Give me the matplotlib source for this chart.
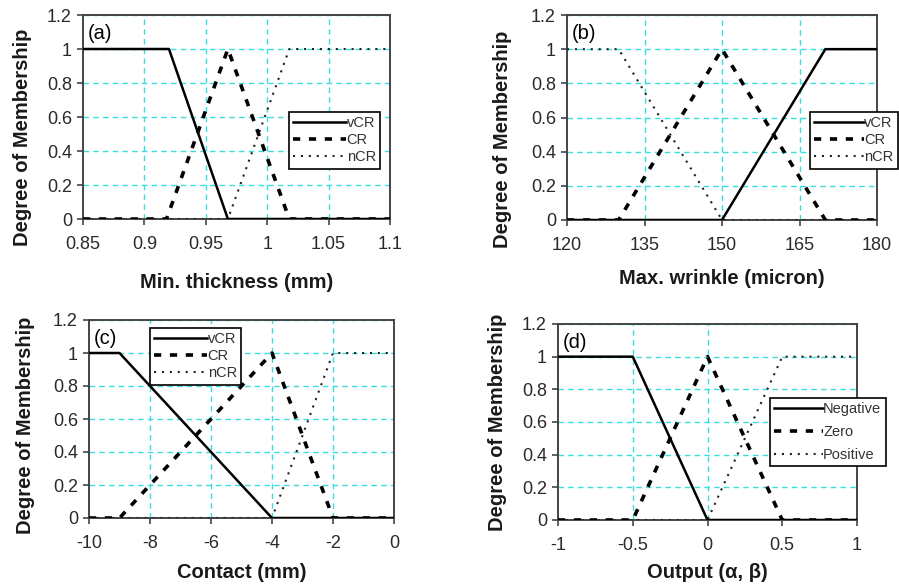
import matplotlib
matplotlib.use("Agg")
import matplotlib.pyplot as plt

plt.rcParams['font.family'] = ['Liberation Sans', 'DejaVu Sans']

# ---- data ----
a_vcr_x = [0.85, 0.92, 0.968, 1.1]
a_vcr_y = [1, 1, 0, 0]
a_cr_x = [0.85, 0.918, 0.968, 1.018, 1.1]
a_cr_y = [0, 0, 1, 0, 0]
a_ncr_x = [0.85, 0.968, 1.018, 1.1]
a_ncr_y = [0, 0, 1, 1]

b_vcr_x = [120, 150, 170, 180]
b_vcr_y = [0, 0, 1, 1]
b_cr_x = [120, 130, 150, 170, 180]
b_cr_y = [0, 0, 1, 0, 0]
b_ncr_x = [120, 130, 150, 180]
b_ncr_y = [1, 1, 0, 0]

c_vcr_x = [-10, -9, -4, 0]
c_vcr_y = [1, 1, 0, 0]
c_cr_x = [-10, -9, -4, -2, 0]
c_cr_y = [0, 0, 1, 0, 0]
c_ncr_x = [-10, -4, -2, 0]
c_ncr_y = [0, 0, 1, 1]

d_neg_x = [-1, -0.5, 0, 1]
d_neg_y = [1, 1, 0, 0]
d_zero_x = [-1, -0.5, 0, 0.5, 1]
d_zero_y = [0, 0, 1, 0, 0]
d_pos_x = [-1, 0, 0.5, 1]
d_pos_y = [0, 0, 1, 1]

a_ticks = [0.85, 0.9, 0.95, 1.0, 1.05, 1.1]
a_ticklabels = ['0.85', '0.9', '0.95', '1', '1.05', '1.1']
b_ticks = [120, 135, 150, 165, 180]
b_ticklabels = ['120', '135', '150', '165', '180']
c_ticks = [-10, -8, -6, -4, -2, 0]
c_ticklabels = ['-10', '-8', '-6', '-4', '-2', '0']
d_ticks = [-1, -0.5, 0, 0.5, 1]
d_ticklabels = ['-1', '-0.5', '0', '0.5', '1']
y_ticks = [0, 0.2, 0.4, 0.6, 0.8, 1.0, 1.2]
y_ticklabels = ['0', '0.2', '0.4', '0.6', '0.8', '1', '1.2']

labels_in = ['vCR', 'CR', 'nCR']
labels_out = ['Negative', 'Zero', 'Positive']

W, H = 899, 588
fig = plt.figure(figsize=(W / 100, H / 100), dpi=100)
GRID = '#3adede'

def box(x0, y0, x1, y1):
    return [x0 / W, 1 - y1 / H, (x1 - x0) / W, (y1 - y0) / H]

def panel(rect, series, ticks, ticklabels, xlabel, tag, labels, leg_xy, leg_loc,
          xlabel_y, ylabel_xy, vgrid, lspacing, hlen):
    ax = fig.add_axes(box(*rect))
    (x1, y1), (x2, y2), (x3, y3) = series
    l1, = ax.plot(x1, y1, color='black', lw=1.8, ls='-', zorder=5)
    l2, = ax.plot(x2, y2, color='black', lw=2.6, ls=(0, (2.0, 2.4)), zorder=4)
    l3, = ax.plot(x3, y3, color='#222222', lw=1.5, ls=(0, (1, 2.8)), zorder=3)
    ax.set_xlim(ticks[0], ticks[-1])
    ax.set_ylim(0, 1.2)
    ax.set_xticks(ticks)
    ax.set_xticklabels(ticklabels)
    ax.set_yticks(y_ticks)
    ax.set_yticklabels(y_ticklabels)
    ax.grid(True, axis='y', color=GRID, ls=(0, (4, 3)), lw=1.0)
    for v in vgrid:
        ax.axvline(v, color=GRID, ls=(0, (4, 3)), lw=1.0, zorder=0.5)
    ax.set_axisbelow(True)
    for s in ax.spines.values():
        s.set_color('#444444')
        s.set_linewidth(1.4)
    ax.tick_params(labelsize=13, length=4, width=1.2, color='#444444', labelcolor='#2a2a2a')
    ax.tick_params(axis='x', pad=8)
    ax.tick_params(axis='y', pad=4)
    fig.text(ylabel_xy[0] / W, 1 - ylabel_xy[1] / H, 'Degree of Membership', rotation=90,
             fontsize=14.5, fontweight='bold', ha='center', va='center', color='#1a1a1a')
    ax.text(0.015, 0.955, tag, transform=ax.transAxes, fontsize=14.5, va='top', ha='left')
    fig.text((rect[0] + rect[2]) / 2 / W, 1 - xlabel_y / H, xlabel, fontsize=14.5,
             fontweight='bold', ha='center', va='center', color='#1a1a1a')
    leg = fig.legend([l1, l2, l3], labels, loc=leg_loc,
                     bbox_to_anchor=(leg_xy[0] / W, 1 - leg_xy[1] / H),
                     frameon=True, fancybox=False, fontsize=10.5, handlelength=hlen,
                     handletextpad=0.05, borderpad=0.3, labelspacing=lspacing,
                     borderaxespad=0, framealpha=1)
    leg.get_frame().set_edgecolor('black')
    leg.get_frame().set_linewidth(1.2)
    for t in leg.get_texts():
        t.set_color('#333333')
    return ax

panel((83, 15, 390, 219), [(a_vcr_x, a_vcr_y), (a_cr_x, a_cr_y), (a_ncr_x, a_ncr_y)],
      a_ticks, a_ticklabels, 'Min. thickness (mm)', '(a)', labels_in, (289, 112), 'upper left',
      283, (23, 137), a_ticks[1:-1], 0.2, 3.6)
panel((567, 15, 877, 220), [(b_vcr_x, b_vcr_y), (b_cr_x, b_cr_y), (b_ncr_x, b_ncr_y)],
      b_ticks, b_ticklabels, 'Max. wrinkle (micron)', '(b)', labels_in, (898, 112), 'upper right',
      278, (503, 139), b_ticks[1:-1], 0.2, 3.4)
panel((89, 320, 394, 518), [(c_vcr_x, c_vcr_y), (c_cr_x, c_cr_y), (c_ncr_x, c_ncr_y)],
      c_ticks, c_ticklabels, 'Contact (mm)', '(c)', labels_in, (150, 328), 'upper left',
      573, (26, 425), c_ticks[1:-1], 0.2, 3.6)
panel((558, 324, 857, 520), [(d_neg_x, d_neg_y), (d_zero_x, d_zero_y), (d_pos_x, d_pos_y)],
      d_ticks, d_ticklabels, 'Output (α, β)', '(d)', labels_out, (770, 398), 'upper left',
      573, (497, 422), [-0.5, 0], 0.6, 3.3)

fig.savefig('out.png', dpi=100)
